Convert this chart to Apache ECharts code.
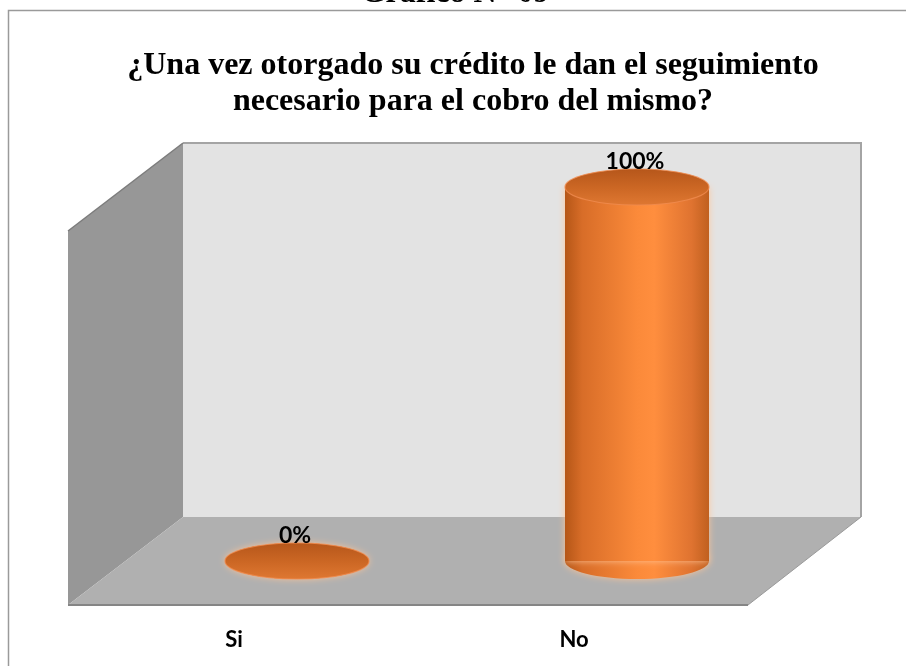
<!DOCTYPE html>
<html>
<head>
<meta charset="utf-8">
<script src="https://cdn.jsdelivr.net/npm/echarts@6/dist/echarts.min.js"></script>
<style>
  html, body { margin: 0; padding: 0; background: #ffffff; }
  #chart { width: 906px; height: 666px; }
</style>
</head>
<body>
<div id="chart"></div>
<script>
// Survey answers and their shares (percent)
const categories = ['Si', 'No'];
const values = [0, 100];
const yMin = 0;
const yMax = 100;

const heading = 'Gráfico N° 09';
const titleLines = [
  '¿Una vez otorgado su crédito le dan el seguimiento',
  'necesario para el cobro del mismo?'
];

// Front plane of the 3D box = the cartesian grid
const W = 906, H = 666;
const GRID = { left: 64, right: 162, top: 231, bottom: 61 };
// Projection offsets: full box depth and the depth at which the cylinders stand
const DEPTH = { dx: 114, dy: -88 };
const BAR_DEPTH = { dx: 63, dy: -44 };
const RX = 72, RY = 18;

const chart = echarts.init(document.getElementById('chart'), null, { renderer: 'canvas' });

// Box walls (side, floor, back) built from the grid rectangle
const fx0 = GRID.left + 4, fx1 = W - GRID.right + 4;
const fyTop = GRID.top, fyBot = H - GRID.bottom;
const bx0 = fx0 + DEPTH.dx + 1, bx1 = fx1 + DEPTH.dx - 1;
const byTop = fyTop + DEPTH.dy, byBot = fyBot + DEPTH.dy;

const walls = [
  { type: 'rect', z: 0, shape: { x: bx0, y: byTop, width: bx1 - bx0, height: byBot - byTop },
    style: { fill: '#e3e3e3' } },
  { type: 'polyline', z: 1, shape: { points: [[bx0, byTop], [bx1, byTop], [bx1, byBot]] },
    style: { stroke: '#a4a4a4', lineWidth: 2, fill: null } },
  { type: 'polygon', z: 1, shape: { points: [[fx0, fyTop], [bx0, byTop], [bx0, byBot], [fx0, fyBot]] },
    style: { fill: '#979797' } },
  { type: 'line', z: 1, shape: { x1: fx0, y1: fyTop, x2: bx0, y2: byTop },
    style: { stroke: '#7c7c7c', lineWidth: 1.5 } },
  { type: 'polygon', z: 1, shape: { points: [[fx0, fyBot], [bx0, byBot], [bx1, byBot], [fx1, fyBot]] },
    style: { fill: '#b0b0b0' } },
  { type: 'line', z: 1, shape: { x1: fx0, y1: fyBot, x2: fx1, y2: fyBot },
    style: { stroke: '#858585', lineWidth: 2 } },
  { type: 'line', z: 1, shape: { x1: fx1, y1: fyBot, x2: bx1, y2: byBot },
    style: { stroke: '#9a9a9a', lineWidth: 1 } }
];

const texts = [
  // outer frame of the figure
  { type: 'rect', z: 1, shape: { x: 8.5, y: 10.5, width: 1000, height: 1000 },
    style: { fill: null, stroke: '#9a9a9a', lineWidth: 1.5 } },
  { type: 'text', z: 5, style: {
      text: heading, x: 455, y: -22, textAlign: 'center', textVerticalAlign: 'top',
      font: 'bold 32px "Liberation Serif"', fill: '#000', lineHeight: 32 } },
  { type: 'text', z: 5, style: {
      text: titleLines.join('\n'), x: 473, y: 48, textAlign: 'center', textVerticalAlign: 'top',
      font: 'bold 32px "Liberation Serif"', fill: '#000', lineHeight: 36 } }
];

function renderCylinder(params, api) {
  const v = api.value(1);
  const top = api.coord([api.value(0), v]);
  const base = api.coord([api.value(0), 0]);
  const cx = top[0] + BAR_DEPTH.dx;
  const yT = top[1] + BAR_DEPTH.dy;
  const yB = base[1] + BAR_DEPTH.dy;

  const bodyFill = new echarts.graphic.LinearGradient(0, 0, 1, 0, [
    { offset: 0, color: '#b55617' },
    { offset: 0.12, color: '#d86d28' },
    { offset: 0.5, color: '#fb8a3a' },
    { offset: 0.62, color: '#ff8e3e' },
    { offset: 0.88, color: '#df7330' },
    { offset: 1, color: '#c0601f' }
  ]);
  const capFill = new echarts.graphic.LinearGradient(0, 0, 0, 1, [
    { offset: 0, color: '#b5561a' },
    { offset: 0.55, color: '#cd6825' },
    { offset: 1, color: '#df7832' }
  ]);

  const children = [
    { type: 'ellipse', shape: { cx: cx, cy: yB, rx: RX, ry: RY },
      style: { fill: bodyFill, shadowBlur: 7, shadowColor: 'rgba(255,196,150,0.95)' } },
    { type: 'rect', shape: { x: cx - RX, y: yT, width: RX * 2, height: Math.max(0, yB - yT) },
      style: { fill: bodyFill, shadowBlur: 7, shadowColor: 'rgba(255,196,150,0.95)' } },
    { type: 'ellipse', shape: { cx: cx, cy: yT, rx: RX, ry: RY },
      style: { fill: capFill, stroke: 'rgba(240,140,80,0.8)', lineWidth: 1.2 } },
    { type: 'text', z2: 10, style: {
        text: v + '%', x: cx - 2, y: yT - RY - 7, textAlign: 'center', textVerticalAlign: 'middle',
        font: 'bold 23px Lato', fill: '#000' } }
  ];
  return { type: 'group', children: children };
}

chart.setOption({
  animation: false,
  backgroundColor: '#ffffff',
  grid: { left: GRID.left, right: GRID.right, top: GRID.top, bottom: GRID.bottom, containLabel: false },
  xAxis: {
    type: 'category',
    data: categories,
    axisLine: { show: false },
    axisTick: { show: false },
    splitLine: { show: false },
    axisLabel: { margin: 24, color: '#000', fontFamily: 'Lato', fontWeight: 'bold', fontSize: 22 }
  },
  yAxis: {
    type: 'value', min: yMin, max: yMax,
    show: false, splitLine: { show: false }
  },
  graphic: { elements: walls.concat(texts) },
  series: [{
    type: 'custom',
    z: 5,
    renderItem: renderCylinder,
    data: categories.map((c, i) => [i, values[i]]),
    encode: { x: 0, y: 1 }
  }]
});
</script>
</body>
</html>
